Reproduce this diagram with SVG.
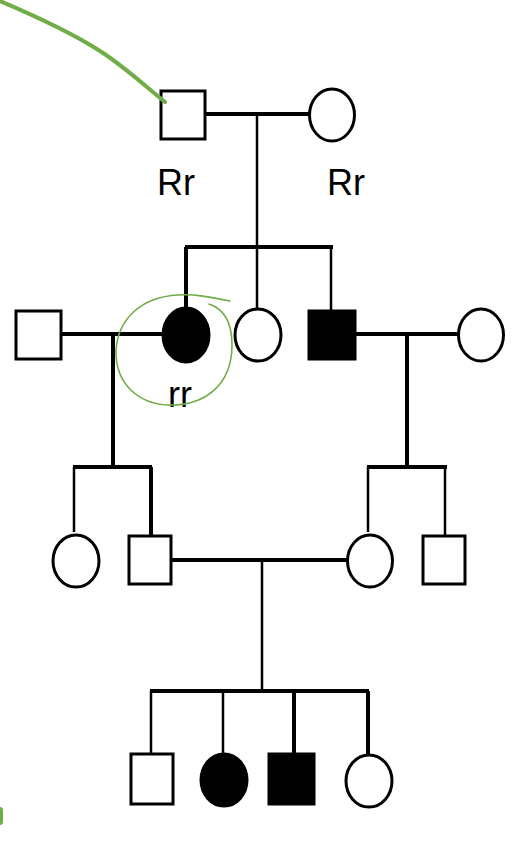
<svg xmlns="http://www.w3.org/2000/svg" width="524" height="850" viewBox="0 0 524 850">
<style>
.n{fill:#fff;stroke:#000;stroke-width:3}
.f{fill:#000;stroke:#000;stroke-width:3}
.m{stroke:#000;stroke-width:4;fill:none}
.l{stroke:#000;stroke-width:2.5;fill:none}
.t{font-family:"Liberation Sans",Arial,sans-serif;font-size:36px;fill:#000}
.g{fill:none;stroke:#70AD47;stroke-linecap:round}
</style>
<rect width="524" height="850" fill="#fff"/>
<g id="connectors">
<line class="m" x1="206" y1="114" x2="309" y2="114"/>
<line class="l" x1="257" y1="114" x2="257" y2="247"/>
<line class="m" x1="185" y1="247" x2="333" y2="247"/>
<line class="m" x1="186" y1="247" x2="186" y2="307"/>
<line class="l" x1="257" y1="247" x2="257" y2="308"/>
<line class="l" x1="331" y1="247" x2="331" y2="310"/>
<line class="m" x1="62" y1="334" x2="162" y2="334"/>
<line class="m" x1="113" y1="334" x2="113" y2="467"/>
<line class="m" x1="73" y1="467" x2="152" y2="467"/>
<line class="l" x1="74" y1="467" x2="74" y2="532"/>
<line class="m" x1="151" y1="467" x2="151" y2="535"/>
<line class="m" x1="356" y1="334" x2="457" y2="334"/>
<line class="m" x1="407" y1="334" x2="407" y2="467"/>
<line class="m" x1="367" y1="467" x2="447" y2="467"/>
<line class="l" x1="368" y1="467" x2="368" y2="532"/>
<line class="l" x1="445" y1="467" x2="445" y2="535"/>
<line class="m" x1="172" y1="560" x2="347" y2="560"/>
<line class="l" x1="262" y1="560" x2="262" y2="691"/>
<line class="m" x1="150" y1="691" x2="369" y2="691"/>
<line class="l" x1="151" y1="691" x2="151" y2="753"/>
<line class="l" x1="223" y1="691" x2="223" y2="753"/>
<line class="m" x1="294" y1="691" x2="294" y2="753"/>
<line class="m" x1="368" y1="691" x2="368" y2="754"/>
</g>
<g id="gen1-father"><rect class="n" x="161" y="91" width="44" height="48"/><text class="t" x="157" y="195">Rr</text></g>
<g id="gen1-mother"><ellipse class="n" cx="332" cy="115" rx="22.5" ry="26"/><text class="t" x="327" y="195">Rr</text></g>
<g id="gen2-husband"><rect class="n" x="16" y="311" width="45" height="48"/></g>
<g id="gen2-daughter-affected"><ellipse class="f" cx="186" cy="335" rx="23" ry="27"/><text class="t" x="168" y="407">rr</text></g>
<g id="gen2-daughter"><ellipse class="n" cx="258" cy="335" rx="23" ry="26"/></g>
<g id="gen2-son-affected"><rect class="f" x="309" y="311" width="46" height="48"/></g>
<g id="gen2-wife"><ellipse class="n" cx="481" cy="335" rx="22.5" ry="26"/></g>
<g id="gen3-daughter-left"><ellipse class="n" cx="76" cy="561" rx="23" ry="26"/></g>
<g id="gen3-son-left"><rect class="n" x="129" y="536" width="42" height="48"/></g>
<g id="gen3-daughter-right"><ellipse class="n" cx="370" cy="561" rx="22.5" ry="26"/></g>
<g id="gen3-son-right"><rect class="n" x="423" y="536" width="42" height="48"/></g>
<g id="gen4-son"><rect class="n" x="131" y="754" width="42" height="50"/></g>
<g id="gen4-daughter-affected"><ellipse class="f" cx="224" cy="780" rx="23" ry="26"/></g>
<g id="gen4-son-affected"><rect class="f" x="269" y="754" width="45" height="50"/></g>
<g id="gen4-daughter"><ellipse class="n" cx="369" cy="781" rx="23" ry="26"/></g>
<g id="annotations">
<path class="g" stroke-width="4" d="M0,1 C40,18 80,38 100,51 C125,67 145,86 165,102"/>
<path class="g" stroke-width="1.6" d="M230,301 C210,297 195,294 178,295 C140,297 118,320 116,350 C115,385 140,404 168,405 C205,406 232,385 232,345 C232,323 224,309 209,304"/>
<rect x="-4" y="807" width="7" height="18" rx="3" fill="#70AD47"/>
</g>
</svg>
